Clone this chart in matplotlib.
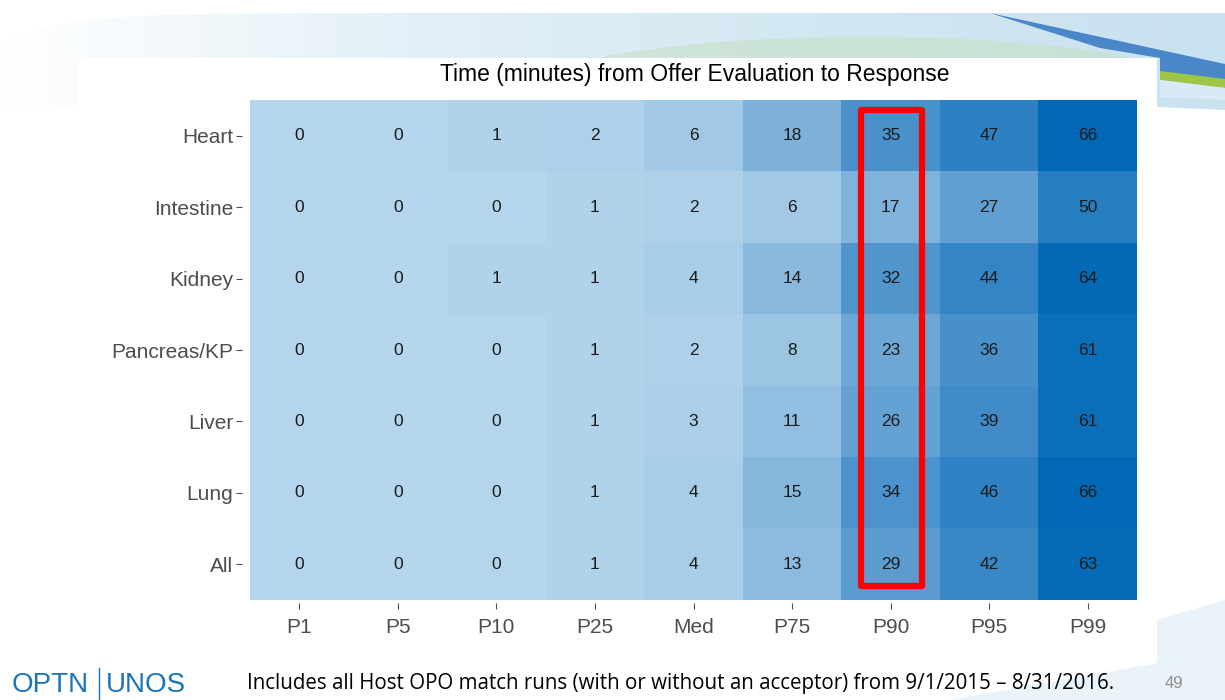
import numpy as np
import matplotlib
matplotlib.use("Agg")
import matplotlib.pyplot as plt
from matplotlib.colors import LinearSegmentedColormap
from matplotlib.patches import Rectangle, Polygon

organs = ["Heart", "Intestine", "Kidney", "Pancreas/KP", "Liver", "Lung", "All"]
percentiles = ["P1", "P5", "P10", "P25", "Med", "P75", "P90", "P95", "P99"]

heart = [0, 0, 1, 2, 6, 18, 35, 47, 66]
intestine = [0, 0, 0, 1, 2, 6, 17, 27, 50]
kidney = [0, 0, 1, 1, 4, 14, 32, 44, 64]
pancreas_kp = [0, 0, 0, 1, 2, 8, 23, 36, 61]
liver = [0, 0, 0, 1, 3, 11, 26, 39, 61]
lung = [0, 0, 0, 1, 4, 15, 34, 46, 66]
all_organs = [0, 0, 0, 1, 4, 13, 29, 42, 63]

values = np.array([heart, intestine, kidney, pancreas_kp, liver, lung, all_organs])
highlight = "P90"

plt.rcParams["font.family"] = ["Liberation Sans", "DejaVu Sans"]

fig = plt.figure(figsize=(12.25, 7), dpi=100)
fig.patch.set_facecolor("white")

# --- slide background (swoosh on top, pale fades) ---
bg = fig.add_axes([0, 0, 1, 1], zorder=-10)
bg.set_xlim(0, 1225)
bg.set_ylim(700, 0)
bg.axis("off")

# horizontal gradient for the big pale swoosh
grad = np.linspace(0, 1, 256)[None, :]
pale = LinearSegmentedColormap.from_list("pale", ["#ffffff", "#e3f0f7", "#d2e7f2", "#c9e2f0"])
xs = np.linspace(0, 1225, 300)
top = 13 + 32 * np.exp(-xs / 60)
swoosh = Polygon(np.vstack([np.column_stack([xs, top]),
                            [[1225, 110], [78, 58], [78, 110], [0, 110]]]),
                 closed=True, facecolor="none", edgecolor="none")
bg.add_patch(swoosh)
im = bg.imshow(grad, cmap=pale, extent=[0, 1225, 110, 0], aspect="auto", zorder=0)
im.set_clip_path(swoosh)

# greenish tint inside the swoosh
gx = np.linspace(600, 1130, 100)
bg.fill_between(gx, 58 - 22 * np.sin((gx - 600) / 530 * np.pi) ** 0.7, 58,
                color="#c6e1c4", alpha=0.6, lw=0, zorder=1)

# coloured bands at the top right
bg.add_patch(Polygon([[990, 13], [1225, 64], [1225, 80], [1160, 72], [1160, 58], [1100, 48]],
                     closed=True, color="#4a86c8", lw=0, zorder=2))
bg.add_patch(Polygon([[1160, 71], [1225, 79], [1225, 88], [1160, 80]],
                     closed=True, color="#9dc647", lw=0, zorder=2))
bg.add_patch(Polygon([[1160, 80], [1225, 88], [1225, 100], [1160, 97]],
                     closed=True, color="#d7eaf5", lw=0, zorder=2))
# pale fade bottom right
bg.add_patch(Polygon([[1157, 620], [1225, 600], [1225, 700], [950, 700], [1157, 663]],
                     closed=True, color="#eaf3f9", lw=0, zorder=1))

# white content panel
bg.add_patch(Rectangle((78, 58), 1079, 605, color="white", lw=0, zorder=3))

# --- heatmap ---
cmap = LinearSegmentedColormap.from_list(
    "blues", [(0, "#b4d5eb"), (0.5, "#4f94cd"), (1, "#0068b5")])

ax = fig.add_axes([250 / 1225, 1 - 600 / 700, 887 / 1225, 500 / 700])
ax.imshow(values, cmap=cmap, aspect="auto", vmin=0, vmax=66, interpolation="nearest")
for i in range(values.shape[0]):
    for j in range(values.shape[1]):
        ax.text(j, i, str(values[i, j]), ha="center", va="center",
                fontsize=12.5, color="#1a1a1a")

ax.set_xticks(range(len(percentiles)))
ax.set_xticklabels(percentiles)
ax.set_yticks(range(len(organs)))
ax.set_yticklabels(organs)
for s in ax.spines.values():
    s.set_visible(False)
ax.spines["left"].set_position(("outward", 6))
ax.spines["bottom"].set_position(("outward", 2))
ax.tick_params(axis="both", colors="#4d4d4d", labelsize=15, length=4, width=0.8)
ax.tick_params(axis="y", pad=2)
ax.tick_params(axis="x", pad=7)

col = percentiles.index(highlight)
ax.add_patch(Rectangle((col - 0.3, -0.36), 0.62, len(organs) - 0.33, fill=False,
                       edgecolor="#ff0000", lw=4.5, joinstyle="round"))

fig.text(695 / 1225, 1 - 75 / 700, "Time (minutes) from Offer Evaluation to Response",
         ha="center", va="center", fontsize=16.5, color="black")

# --- footer ---
fig.text(12 / 1225, 1 - 685 / 700, "OPTN", fontsize=20, color="#1a75bb", va="center")
bg.plot([99, 99], [668, 700], color="#1a75bb", lw=1, zorder=4)
fig.text(106 / 1225, 1 - 685 / 700, "UNOS", fontsize=20, color="#1a75bb", va="center")
fig.text(247 / 1225, 1 - 684 / 700,
         "Includes all Host OPO match runs (with or without an acceptor) from 9/1/2015 \u2013 8/31/2016.",
         fontsize=14.8, color="black", va="center", family="Open Sans")
fig.text(1165 / 1225, 1 - 684 / 700, "49", fontsize=12, color="#8c8c8c", va="center")

fig.savefig("out.png", dpi=100)
